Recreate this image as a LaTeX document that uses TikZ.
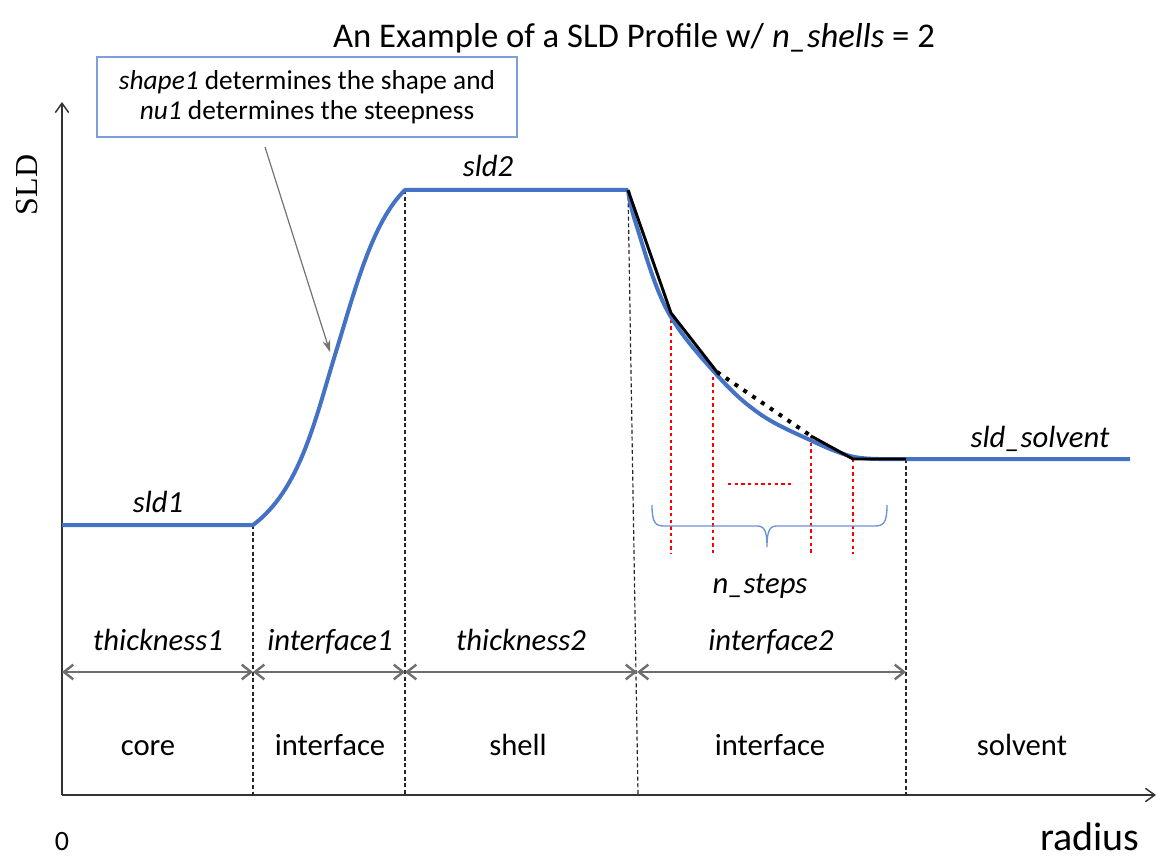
\documentclass[tikz,border=0pt]{standalone}
\usepackage{fontspec}
\setmainfont{Carlito}
\newfontfamily\sldserif{Liberation Serif}
\usetikzlibrary{arrows.meta}
\definecolor{curveblue}{RGB}{68,114,196}
\definecolor{boxblue}{RGB}{125,160,220}
\definecolor{bracecol}{RGB}{110,145,210}
\definecolor{arrowgray}{RGB}{110,110,110}
\begin{document}
\begin{tikzpicture}[x=0.75pt,y=-0.75pt,
  lbl/.style={font=\fontsize{23}{27}\selectfont\itshape, inner sep=0pt, anchor=base},
  reg/.style={font=\fontsize{23}{27}\selectfont, inner sep=0pt, anchor=base},
  blueline/.style={draw=curveblue, line width=3pt, line join=round},
  blackline/.style={draw=black, line width=2.2pt, line join=round},
  vdash/.style={draw=black!85, line width=0.9pt, dash pattern=on 3pt off 2pt},
  reddash/.style={draw=red, line width=1.2pt, dash pattern=on 2.5pt off 2.5pt},
  axis/.style={draw=black!80, line width=1.1pt, -{Straight Barb[length=7pt,width=10pt]}},
  spanarrow/.style={draw=arrowgray, line width=1.8pt, {Straight Barb[length=7pt,width=11pt]}-{Straight Barb[length=7pt,width=11pt]}},
  callout/.style={draw=boxblue, line width=1.4pt, fill=white, minimum width=315pt, minimum height=60pt, inner sep=0pt, align=center, font=\fontsize{20.5}{22.5}\selectfont}
]
\useasboundingbox (0,0) rectangle (1161,859);

% title
\node[reg, font=\fontsize{26}{30}\selectfont] (title) at (634,48) {An Example of a SLD Profile w/ \textit{n\_shells} = 2};

% axes
\coordinate (origin) at (62,795);
\coordinate (ytip) at (62,102);
\coordinate (xtip) at (1156,795);
\draw[axis] (origin) -- (ytip);
\draw[axis] (origin) -- (xtip);
\node[font=\fontsize{24}{28}\selectfont\sldserif, rotate=90, inner sep=0pt] (sld) at (27,185) {SLD};
\node[reg, font=\fontsize{21}{25}\selectfont] (zero) at (62,850) {0};
\node[reg, font=\fontsize{30}{34}\selectfont] (radius) at (1090,850) {radius};

% key points
\coordinate (p1) at (253,525);
\coordinate (p2) at (405,190);
\coordinate (p3) at (628,190);
\coordinate (p4) at (906,459);
\coordinate (b1) at (253,795);
\coordinate (b2) at (405,795);
\coordinate (b3) at (638,795);
\coordinate (b4) at (906,795);

% vertical dashed boundaries
\draw[vdash] (p1) -- (b1);
\draw[vdash] (p2) -- (b2);
\draw[vdash] (p3) -- (b3);
\draw[vdash] (p4) -- (b4);

% red dashed steps
\coordinate (r1t) at (671,313); \coordinate (r1b) at (671,554);
\coordinate (r2t) at (713,370); \coordinate (r2b) at (713,554);
\coordinate (r3t) at (811,436); \coordinate (r3b) at (811,554);
\coordinate (r4t) at (853,459); \coordinate (r4b) at (853,554);
\draw[reddash] (r1t) -- (r1b);
\draw[reddash] (r2t) -- (r2b);
\draw[reddash] (r3t) -- (r3b);
\draw[reddash] (r4t) -- (r4b);
\coordinate (rh1) at (728,484); \coordinate (rh2) at (792,484);
\draw[reddash] (rh1) -- (rh2);

% blue profile
\draw[blueline] (62,525) -- (p1)
  .. controls (300,490) and (315,420) .. (335,355)
  .. controls (355,290) and (372,222) .. (p2) -- (p3);
\draw[blueline] plot[smooth, tension=0.6] coordinates {(p3) (636,224) (667,310) (717,375) (760,414) (810,440) (850,456) (880,459)} -- (1130,459);

% black step approximation
\draw[blackline] (p3) -- (r1t) -- (717,372);
\draw[black, line width=3pt, dash pattern=on 3pt off 5pt] (717,372) -- (r3t);
\draw[blackline] (r3t) -- (r4t) -- (p4);

% brace
\draw[draw=bracecol, line width=1pt] (652,505) .. controls (652,522) and (655,526) .. (664,526)
  -- (757,526) .. controls (764,526) and (767,530) .. (767,547)
  .. controls (767,530) and (770,526) .. (777,526)
  -- (875,526) .. controls (884,526) and (887,522) .. (887,505);
\node[lbl] (nsteps) at (760,593) {n\_steps};

% level labels
\node[lbl] (sld1) at (158,512) {sld1};
\node[lbl] (sld2) at (488,177) {sld2};
\node[lbl] (sldsolv) at (1040,447) {sld\_solvent};

% span arrows
\coordinate (a0) at (62,672);
\coordinate (a1) at (253,672);
\coordinate (a2) at (405,672);
\coordinate (a3) at (637,672);
\coordinate (a4) at (906,672);
\draw[spanarrow] (a0) -- (a1);
\draw[spanarrow] (a1) -- (a2);
\draw[spanarrow] (a2) -- (a3);
\draw[spanarrow] (a3) -- (a4);
\node[lbl] (t1) at (158,650) {thickness1};
\node[lbl] (i1) at (330,650) {interface1};
\node[lbl] (t2) at (521,650) {thickness2};
\node[lbl] (i2) at (771,650) {interface2};

% region names
\node[reg] (core) at (148,755) {core};
\node[reg] (intA) at (330,755) {interface};
\node[reg] (shell) at (518,755) {shell};
\node[reg] (intB) at (770,755) {interface};
\node[reg] (solv) at (1022,755) {solvent};

% callout
\node[callout] (note) at (307,97) {\textit{shape1} determines the shape and\\ \textit{nu1} determines the steepness};
\coordinate (notetip) at (330,352);
\draw[draw=black!55, line width=0.9pt, -{Stealth[length=9pt,width=6pt]}] (265,147) -- (notetip);
\end{tikzpicture}
\end{document}
